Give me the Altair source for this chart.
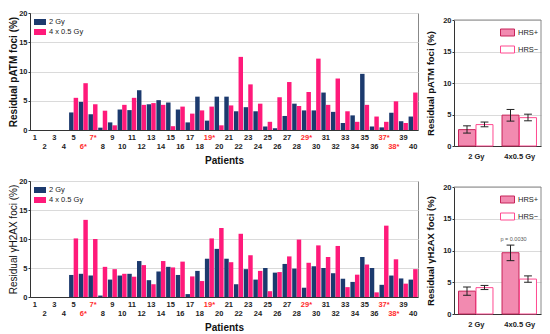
import altair as alt
import pandas as pd

FONT = "Liberation Sans"

# ---------------- data ----------------
patients = list(range(1, 41))
starred = [6, 7, 19, 29, 37, 38]
doses = ["2 Gy", "4 x 0.5 Gy"]

patm_2gy = [0, 0, 0, 0, 3.0, 4.8, 2.7, 0.4, 1.3, 3.5, 3.4, 6.8, 4.4, 5.1, 4.7, 3.5, 1.3, 5.7, 1.6, 5.7,
            5.7, 3.2, 3.9, 3.2, 0.6, 0.3, 2.4, 4.5, 3.35, 3.35, 6.4, 3.1, 1.2, 2.5, 9.6, 0.6, 0.45, 2.95, 1.5, 2.3]
patm_4x = [0, 0, 0, 0, 5.5, 8.0, 4.4, 3.3, 0.8, 4.3, 5.5, 4.3, 4.6, 4.3, 0.65, 4.0, 2.8, 3.35, 4.0, 0.8,
           4.2, 12.5, 7.8, 4.5, 1.4, 5.6, 8.2, 4.1, 6.5, 12.2, 4.3, 8.8, 3.2, 1.4, 4.3, 2.3, 1.4, 4.9, 1.2, 6.4]

h2ax_2gy = [0, 0, 0, 0, 3.8, 4.0, 3.7, 0.25, 3.0, 3.7, 4.0, 6.2, 2.9, 4.4, 5.2, 3.8, 0.5, 4.5, 6.6, 8.3,
            6.6, 2.2, 4.8, 3.0, 5.0, 4.2, 5.7, 4.9, 1.6, 5.3, 5.0, 4.1, 3.15, 2.6, 6.9, 5.0, 2.1, 3.7, 3.2, 3.0]
h2ax_4x = [0, 0, 0, 0, 10.1, 13.3, 10.0, 5.2, 4.8, 4.0, 3.5, 5.5, 2.2, 6.2, 5.1, 6.1, 3.55, 2.75, 10.1, 11.9,
           6.0, 10.9, 7.2, 4.5, 1.0, 4.3, 7.0, 9.9, 5.9, 8.9, 6.9, 8.8, 1.7, 3.85, 5.6, 0.8, 12.3, 6.5, 2.3, 4.8]

groups = ["2 Gy", "4x0.5 Gy"]
status = ["HRS+", "HRS\u2212"]

patm_pos_mean = [2.6, 4.9]
patm_pos_lo = [2.05, 3.95]
patm_pos_hi = [3.2, 5.8]
patm_neg_mean = [3.4, 4.5]
patm_neg_lo = [3.05, 4.0]
patm_neg_hi = [3.8, 5.05]

h2ax_pos_mean = [3.6, 9.65]
h2ax_pos_lo = [2.95, 8.4]
h2ax_pos_hi = [4.25, 10.85]
h2ax_neg_mean = [4.15, 5.5]
h2ax_neg_lo = [3.85, 5.0]
h2ax_neg_hi = [4.5, 6.0]

p_label = "p = 0.0030"
p_y = 11.8
y_max = 20

# ---------------- styles ----------------
BLUE = "#1C3A6E"
PINK = "#FF1A7A"
POS_FILL = "#F28AB0"
POS_STROKE = "#C7245A"
NEG_STROKE = "#FF4A90"
RED = "#FF2A2A"
FRAME = "#888888"
RECT = "M-1,-0.5H1V0.5H-1Z"
BW = 0.46      # bar width in patient units
GW = 0.39      # bar width in group units
CAP = 0.09     # half width of error caps


def yaxis(title, size, weight, tpad, title_y=None):
    kw = {}
    if title_y is not None:
        kw["titleY"] = title_y
    return alt.Axis(values=[0, 5, 10, 15, 20], title=title, titleFont=FONT, titleFontSize=size,
                    titleFontWeight=weight, titleColor="#111", titlePadding=tpad,
                    labelPadding=1, tickSize=2, **kw)


def left_chart(v2, v4, title, title_weight, height):
    n = len(patients)
    df = pd.DataFrame({
        "patient": patients * 2,
        "dose": [doses[0]] * n + [doses[1]] * n,
        "d": [0] * n + [1] * n,
        "value": v2 + v4,
    })
    lab = pd.DataFrame({
        "patient": patients,
        "label": [f"{p}*" if p in starred else str(p) for p in patients],
        "star": [p in starred for p in patients],
        "row": [0 if p % 2 else 1 for p in patients],
    })
    xscale = alt.Scale(domain=[0.5, len(patients) + 0.5], nice=False, zero=False)
    xaxis = alt.Axis(labels=False, ticks=False, grid=False, title="Patients",
                     titleFont=FONT, titleFontSize=10, titleFontWeight="bold",
                     titleColor="#111", titlePadding=25)
    ya = yaxis(title, 10, title_weight, 0)
    ys = alt.Scale(domain=[0, y_max], nice=False)
    bars = alt.Chart(df).transform_calculate(
        x0=f"datum.patient - {BW} - 0.01 + {BW + 0.01} * datum.d",
        x1=f"datum.patient - 0.01 + {BW + 0.01} * datum.d",
    ).mark_bar().encode(
        x=alt.X("x0:Q", scale=xscale, axis=xaxis),
        x2="x1:Q",
        y=alt.Y("value:Q", scale=ys, axis=ya),
        y2=alt.datum(0),
        color=alt.Color("dose:N", sort=doses,
                        scale=alt.Scale(domain=doses, range=[BLUE, PINK]),
                        legend=alt.Legend(orient="none", legendX=4, legendY=3, title=None,
                                          symbolType=RECT, symbolSize=144, symbolStrokeWidth=0,
                                          labelFont=FONT, labelFontSize=7.5, labelFontWeight="normal",
                                          labelColor="#222", rowPadding=0, padding=0, labelOffset=3)),
    )
    texts = []
    for row, dy in [(0, 8), (1, 17)]:
        texts.append(
            alt.Chart(lab).transform_filter(f"datum.row == {row}").mark_text(
                font=FONT, fontSize=7.5, fontWeight="bold", baseline="middle"
            ).encode(
                x=alt.X("patient:Q", scale=xscale, axis=xaxis),
                y=alt.value(height + dy),
                text="label:N",
                color=alt.condition("datum.star", alt.value(RED), alt.value("#222")),
            )
        )
    return alt.layer(bars, *texts).properties(width=388, height=height)


def right_chart(pm, pl, ph, nm, nl, nh, title, plot_h, drop, ptext=None):
    H = plot_h + drop   # full panel height; the framed plot starts `drop` px lower
    df = pd.DataFrame({
        "gi": [0, 1, 0, 1],
        "si": [0, 0, 1, 1],
        "status": [status[0]] * 2 + [status[1]] * 2,
        "mean": pm + nm,
        "lo": pl + nl,
        "hi": ph + nh,
    })
    calc = dict(xc=f"datum.gi + 0.5 + (datum.si == 0 ? -1 : 1) * ({GW} / 2 + 0.006)")
    xscale = alt.Scale(domain=[0, len(groups)], nice=False, zero=False)
    label_expr = f"datum.value < 1 ? '{groups[0]}' : '{groups[1]}'"
    xaxis = alt.Axis(title=None, ticks=False, labelPadding=6, labelAngle=0, grid=False,
                     values=[0.5, 1.5], labelExpr=label_expr)
    ya = yaxis(title, 9.5, "bold", 7, title_y=drop + plot_h / 2)
    ys = alt.Scale(domain=[0, y_max], nice=False, range=[H, drop])
    leg = alt.Legend(orient="none", legendX=46, legendY=drop + 5, title=None,
                     symbolType=RECT, symbolSize=196, symbolStrokeWidth=1,
                     labelFont=FONT, labelFontSize=7.5, labelFontWeight="normal",
                     labelColor="#222", rowPadding=4, padding=0, labelOffset=3)
    base = alt.Chart(df).transform_calculate(**calc).transform_calculate(
        x0=f"datum.xc - {GW} / 2", x1=f"datum.xc + {GW} / 2",
        c0=f"datum.xc - {CAP}", c1=f"datum.xc + {CAP}",
    )
    bars = base.mark_bar(strokeWidth=1).encode(
        x=alt.X("x0:Q", scale=xscale, axis=xaxis), x2="x1:Q",
        y=alt.Y("mean:Q", scale=ys, axis=ya), y2=alt.datum(0),
        fill=alt.Fill("status:N", sort=status,
                      scale=alt.Scale(domain=status, range=[POS_FILL, "white"]), legend=leg),
        stroke=alt.Stroke("status:N", sort=status,
                          scale=alt.Scale(domain=status, range=[POS_STROKE, NEG_STROKE]), legend=leg),
    )
    rules = base.mark_rule(color="#222", strokeWidth=1).encode(
        x=alt.X("xc:Q", scale=xscale, axis=xaxis),
        y=alt.Y("lo:Q", scale=ys, axis=ya), y2="hi:Q")
    clo = base.mark_rule(color="#222", strokeWidth=1).encode(
        x=alt.X("c0:Q", scale=xscale, axis=xaxis), x2="c1:Q",
        y=alt.Y("lo:Q", scale=ys, axis=ya))
    chi = base.mark_rule(color="#222", strokeWidth=1).encode(
        x=alt.X("c0:Q", scale=xscale, axis=xaxis), x2="c1:Q",
        y=alt.Y("hi:Q", scale=ys, axis=ya))
    frame_top = alt.Chart().mark_rule(color=FRAME, strokeWidth=1).encode(
        x=alt.datum(0, scale=xscale, axis=xaxis), x2=alt.datum(len(groups)),
        y=alt.datum(y_max, scale=ys, axis=ya))
    frame_right = alt.Chart().mark_rule(color=FRAME, strokeWidth=1).encode(
        x=alt.datum(len(groups), scale=xscale, axis=xaxis),
        y=alt.datum(0, scale=ys, axis=ya), y2=alt.datum(y_max))
    layers = [bars, rules, clo, chi, frame_top, frame_right]
    if ptext is not None:
        pdf = pd.DataFrame({"gi": [1], "si": [0], "y": [p_y], "text": [ptext]})
        layers.append(
            alt.Chart(pdf).transform_calculate(**calc).mark_text(
                font=FONT, fontSize=5.5, color="#555", dx=3
            ).encode(x=alt.X("xc:Q", scale=xscale, axis=xaxis),
                     y=alt.Y("y:Q", scale=ys, axis=ya), text="text:N"))
    return alt.layer(*layers).properties(
        width=87, height=H, view=alt.ViewBackground(stroke="transparent"))


top = alt.hconcat(
    left_chart(patm_2gy, patm_4x, "Residual pATM foci (%)", "bold", 117),
    right_chart(patm_pos_mean, patm_pos_lo, patm_pos_hi, patm_neg_mean, patm_neg_lo, patm_neg_hi,
                "Residual pATM foci (%)", 126, 7),
    spacing=6,
).resolve_scale(color="independent", fill="independent", stroke="independent")

bottom = alt.hconcat(
    left_chart(h2ax_2gy, h2ax_4x, "Residual \u03b3H2AX foci (%)", "normal", 116),
    right_chart(h2ax_pos_mean, h2ax_pos_lo, h2ax_pos_hi, h2ax_neg_mean, h2ax_neg_lo, h2ax_neg_hi,
                "Residual \u03b3H2AX foci (%)", 127, 6, ptext=p_label),
    spacing=6,
).resolve_scale(color="independent", fill="independent", stroke="independent")

chart = alt.vconcat(top, bottom, spacing=10).resolve_scale(
    color="independent", fill="independent", stroke="independent"
).properties(padding=0).configure_view(
    stroke=FRAME, strokeWidth=1
).configure_axis(
    domainColor="#333", tickColor="#333", gridColor="#DADADA",
    labelFont=FONT, labelFontSize=7.5, labelFontWeight="bold", labelColor="#222",
)

chart.save("out.html", embed_options={"renderer": "svg", "actions": False})
